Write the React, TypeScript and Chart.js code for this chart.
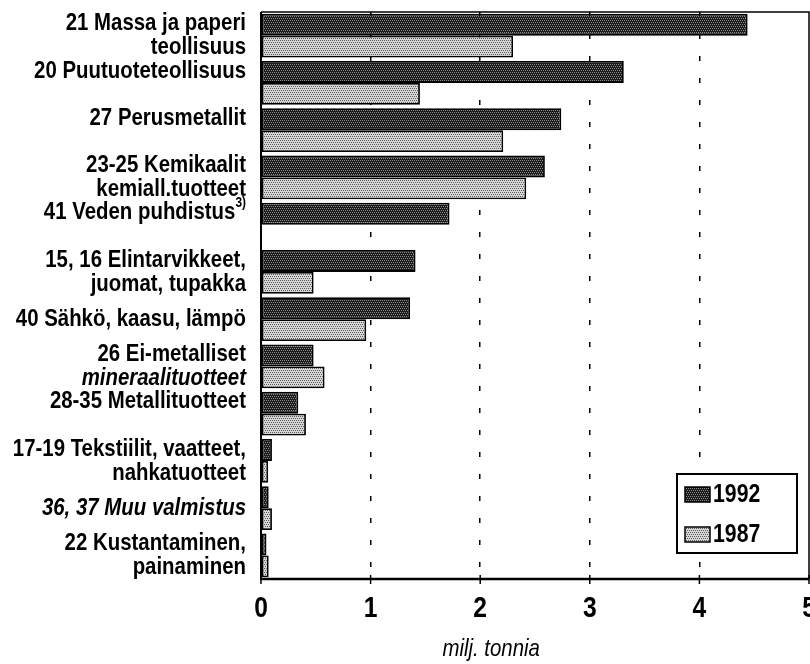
import React, { useEffect, useRef } from "react";
import { Chart, registerables } from "chart.js";

Chart.register(...registerables);

const FONT = "'Liberation Sans', Arial, sans-serif";
const SQUEEZE = 0.85;

const categories: (string | string[])[] = [
  ["21 Massa ja paperi", "teollisuus"],
  ["20 Puutuoteteollisuus", ""],
  ["27 Perusmetallit", ""],
  ["23-25 Kemikaalit", "kemiall.tuotteet"],
  ["41 Veden puhdistus³⁾", ""],
  ["15, 16 Elintarvikkeet,", "juomat, tupakka"],
  "40 Sähkö, kaasu, lämpö",
  ["26 Ei-metalliset", "mineraalituotteet"],
  ["28-35 Metallituotteet", ""],
  ["17-19 Tekstiilit, vaatteet,", "nahkatuotteet"],
  "36, 37 Muu valmistus",
  ["22 Kustantaminen,", "painaminen"],
];

const values1992: (number | null)[] = [4.44, 3.31, 2.74, 2.59, 1.72, 1.41, 1.36, 0.48, 0.34, 0.1, 0.07, 0.05];
const values1987: (number | null)[] = [2.3, 1.45, 2.21, 2.42, null, 0.48, 0.96, 0.58, 0.41, 0.065, 0.1, 0.07];

const seriesLabels = ["1992", "1987"];
const xTicks = [0, 1, 2, 3, 4, 5];
const axisTitle = "milj. tonnia";
const italicLines = ["mineraalituotteet", "36, 37 Muu valmistus"];

function makePattern(base: string, dot: string): CanvasPattern | string {
  const c = document.createElement("canvas");
  c.width = 4;
  c.height = 4;
  const g = c.getContext("2d");
  if (!g) return base;
  g.fillStyle = base;
  g.fillRect(0, 0, 4, 4);
  g.fillStyle = dot;
  for (let y = 0; y < 4; y += 2) {
    for (let x = 0; x < 4; x += 2) {
      g.fillRect(x + (y % 4 === 0 ? 0 : 1), y, 1, 1);
    }
  }
  return g.createPattern(c, "repeat") || base;
}

function squeezeText(ctx: CanvasRenderingContext2D, text: string, x: number, y: number, font: string, align: CanvasTextAlign) {
  ctx.save();
  ctx.font = font;
  ctx.textAlign = align;
  ctx.textBaseline = "middle";
  ctx.translate(x, y);
  ctx.scale(SQUEEZE, 1);
  ctx.fillText(text, 0, 0);
  ctx.restore();
}

function measureSqueezed(ctx: CanvasRenderingContext2D, text: string, font: string) {
  ctx.save();
  ctx.font = font;
  const w = ctx.measureText(text).width * SQUEEZE;
  ctx.restore();
  return w;
}

const decorPlugin = {
  id: "decor",
  afterDatasetsDraw(chart: any) {
    const { ctx, chartArea: a, scales } = chart;
    const xs = scales.x;
    const ys = scales.y;
    ctx.save();
    ctx.strokeStyle = "#000";
    ctx.fillStyle = "#000";
    ctx.setLineDash([]);
    // frame
    ctx.lineWidth = 1.5;
    ctx.beginPath();
    ctx.moveTo(a.left, a.top);
    ctx.lineTo(a.right, a.top);
    ctx.lineTo(a.right, a.bottom);
    ctx.stroke();
    ctx.lineWidth = 2;
    ctx.beginPath();
    ctx.moveTo(a.left, a.top);
    ctx.lineTo(a.left, a.bottom + 1);
    ctx.stroke();
    ctx.lineWidth = 2.5;
    ctx.beginPath();
    ctx.moveTo(a.left - 1, a.bottom);
    ctx.lineTo(a.right, a.bottom);
    ctx.stroke();
    // x tick marks and labels
    ctx.lineWidth = 1.5;
    xs.ticks.forEach((t: any, i: number) => {
      const px = xs.getPixelForTick(i);
      ctx.beginPath();
      ctx.moveTo(px, a.bottom - 4);
      ctx.lineTo(px, a.bottom + 5);
      ctx.stroke();
      squeezeText(ctx, String(t.value), px, a.bottom + 30, `bold 29px ${FONT}`, "center");
    });
    // category labels
    const rightX = a.left - 15;
    const lineH = 24;
    (chart.data.labels as (string | string[])[]).forEach((lab, i) => {
      const lines = Array.isArray(lab) ? lab : [lab];
      const cy = ys.getPixelForValue(i);
      const y0 = cy - ((lines.length - 1) * lineH) / 2;
      lines.forEach((ln, j) => {
        if (!ln) return;
        const style = italicLines.includes(ln) ? "italic bold" : "bold";
        const font = `${style} 24px ${FONT}`;
        const y = y0 + j * lineH;
        const sup = ln.match(/[³⁾]+$/);
        if (sup) {
          const base = ln.slice(0, ln.length - sup[0].length);
          const supText = sup[0].replace("³", "3").replace("⁾", ")");
          const supFont = `bold 14px ${FONT}`;
          const sw = measureSqueezed(ctx, supText, supFont);
          squeezeText(ctx, base, rightX - sw, y, font, "right");
          squeezeText(ctx, supText, rightX, y - 9, supFont, "right");
        } else {
          squeezeText(ctx, ln, rightX, y, font, "right");
        }
      });
    });
    // legend
    const lx = a.right - 132;
    const ly = a.bottom - 105;
    const lw = 120;
    const lh = 79;
    ctx.fillStyle = "#fff";
    ctx.fillRect(lx, ly, lw, lh);
    ctx.lineWidth = 2;
    ctx.strokeRect(lx, ly, lw, lh);
    chart.data.datasets.forEach((ds: any, i: number) => {
      const sy = ly + 13 + i * 40;
      ctx.fillStyle = ds.backgroundColor;
      ctx.fillRect(lx + 8, sy, 25, 15);
      ctx.lineWidth = 1.5;
      ctx.strokeRect(lx + 8, sy, 25, 15);
      ctx.fillStyle = "#000";
      squeezeText(ctx, ds.label, lx + 36, sy + 8, `bold 25px ${FONT}`, "left");
    });
    // axis title
    ctx.fillStyle = "#000";
    squeezeText(ctx, axisTitle, xs.getPixelForValue(2.1), a.bottom + 70, `italic 24px ${FONT}`, "center");
    ctx.restore();
  },
};

export default function App() {
  const ref = useRef<HTMLCanvasElement | null>(null);

  useEffect(() => {
    if (!ref.current) return;
    const dark = makePattern("#1c1c1c", "#8a8a8a");
    const light = makePattern("#d6d6d6", "#5a5a5a");
    const chart = new Chart(ref.current, {
      type: "bar",
      data: {
        labels: categories,
        datasets: [
          {
            label: seriesLabels[0],
            data: values1992,
            backgroundColor: dark as any,
            borderColor: "#000",
            borderWidth: 1.8,
            borderSkipped: false,
            categoryPercentage: 0.93,
            barPercentage: 1.0,
          },
          {
            label: seriesLabels[1],
            data: values1987,
            backgroundColor: light as any,
            borderColor: "#000",
            borderWidth: 1.8,
            borderSkipped: false,
            categoryPercentage: 0.93,
            barPercentage: 1.0,
          },
        ],
      },
      options: {
        indexAxis: "y",
        responsive: false,
        animation: false,
        layout: { padding: { top: 12, right: 21, left: 0, bottom: 0 } },
        plugins: {
          legend: { display: false },
          tooltip: { enabled: false },
        },
        scales: {
          x: {
            type: "linear",
            min: xTicks[0],
            max: xTicks[xTicks.length - 1],
            afterBuildTicks: (s: any) => {
              s.ticks = xTicks.map((v) => ({ value: v }));
            },
            ticks: { display: false },
            grid: {
              color: (c: any) =>
                c.tick && (c.tick.value === xTicks[0] || c.tick.value === xTicks[xTicks.length - 1])
                  ? "rgba(0,0,0,0)"
                  : "#000",
              lineWidth: 1.5,
              drawTicks: false,
            },
            border: { display: false, dash: [5, 17] },
            afterFit: (s: any) => {
              s.height = 85;
            },
          },
          y: {
            type: "category",
            ticks: { display: false, autoSkip: false },
            grid: { display: false, drawTicks: false },
            border: { display: false },
            afterFit: (s: any) => {
              s.width = 261;
            },
          },
        },
      } as any,
      plugins: [decorPlugin],
    });
    return () => chart.destroy();
  }, []);

  return (
    <div
      style={{
        position: "fixed",
        left: 0,
        top: 0,
        width: 810,
        height: 664,
        overflow: "hidden",
        background: "#fff",
      }}
    >
      <canvas ref={ref} width={830} height={664} style={{ display: "block" }} />
    </div>
  );
}
